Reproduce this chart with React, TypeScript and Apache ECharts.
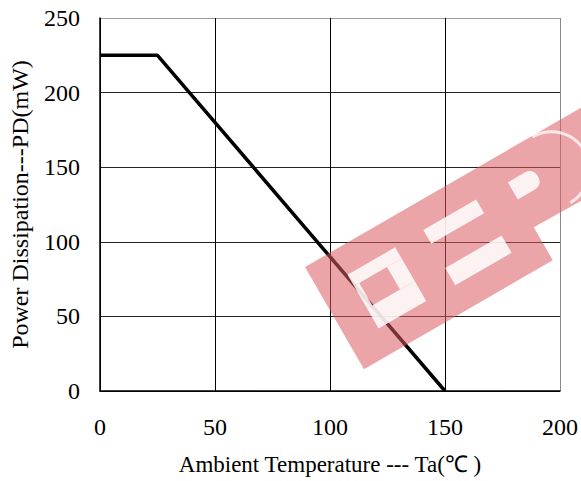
import React, { useEffect, useRef } from "react";
import * as echarts from "echarts";

const temperature = [0, 25, 150];
const power = [225, 225, 0];
const xTickStep = 50;
const yTickStep = 50;
const xMax = 200;
const yMax = 250;

export default function App() {
  const ref = useRef<HTMLDivElement>(null);
  useEffect(() => {
    document.body.style.margin = "0";
    const chart = echarts.init(ref.current!, null, { renderer: "svg", width: 581, height: 481 });
    const serif = "'Liberation Serif', 'Times New Roman', serif";
    const pink = "rgb(219,91,97)";
    const pinkOpacity = 0.55;
    const cut = (x: number, y: number, w: number, h: number, r: any = 0) => ({
      type: "rect",
      shape: { x, y, width: w, height: h, r },
      style: { fill: "#fff", opacity: 0.85 },
      z: 101,
      silent: true,
    });
    chart.setOption({
      animation: false,
      backgroundColor: "#fff",
      grid: { left: 100, right: 19, top: 18, bottom: 88 },
      xAxis: {
        type: "value",
        min: 0,
        max: xMax,
        interval: xTickStep,
        axisLine: { show: true, lineStyle: { color: "#000", width: 1.5 } },
        axisTick: { show: false },
        axisLabel: { fontFamily: serif, fontSize: 24, color: "#000", margin: 24 },
        splitLine: {
          show: true,
          lineStyle: { color: ["#000", "#000", "#000", "#000", "#8a8a8a"], width: 1 },
        },
        name: "Ambient Temperature --- Ta(℃ )",
        nameLocation: "middle",
        nameGap: 62,
        nameTextStyle: { fontFamily: serif, fontSize: 23, color: "#000" },
      },
      yAxis: {
        type: "value",
        min: 0,
        max: yMax,
        interval: yTickStep,
        axisLine: { show: true, lineStyle: { color: "#000", width: 1.5 } },
        axisTick: { show: false },
        axisLabel: { fontFamily: serif, fontSize: 24, color: "#000", margin: 20 },
        splitLine: {
          show: true,
          lineStyle: {
            color: ["#000", "#222", "#222", "#222", "#222", "#9a9a9a"],
            width: 1,
          },
        },
        name: "Power Dissipation---PD(mW)",
        nameLocation: "middle",
        nameGap: 68,
        nameTextStyle: { fontFamily: serif, fontSize: 24, color: "#000" },
      },
      series: [
        {
          type: "line",
          data: temperature.map((t, i) => [t, power[i]]),
          symbol: "none",
          lineStyle: { color: "#000", width: 3.5 },
          z: 2,
        },
      ],
      graphic: [
        {
          type: "group",
          x: 305,
          y: 267,
          rotation: Math.PI / 6,
          silent: true,
          children: [
            {
              type: "polygon",
              shape: {
                points: [
                  [0, 0],
                  [340, 0],
                  [340, 82],
                  [218, 80],
                  [218, 118],
                  [0, 118],
                ],
              },
              style: { fill: pink, opacity: pinkOpacity },
              z: 100,
            },
            // G
            cut(33, 28, 55, 13),
            cut(33, 67, 55, 23),
            cut(33, 41, 6, 26),
            cut(71, 41, 17, 26),
            // E
            cut(121, 27, 61, 16),
            cut(121, 71, 65, 20),
            // P counter
            cut(218, 28, 29, 20, [0, 9, 9, 0]),
            {
              type: "arc",
              shape: { cx: 262, cy: 39, r: 38, startAngle: -Math.PI / 2, endAngle: Math.PI / 2 },
              style: { stroke: "#fff", lineWidth: 3, opacity: 0.75, fill: "none" },
              z: 101,
            },
          ],
        },
      ],
    });
    return () => chart.dispose();
  }, []);
  return (
    <div
      ref={ref}
      style={{ position: "fixed", left: 0, top: 0, width: 581, height: 481, background: "#fff" }}
    />
  );
}
